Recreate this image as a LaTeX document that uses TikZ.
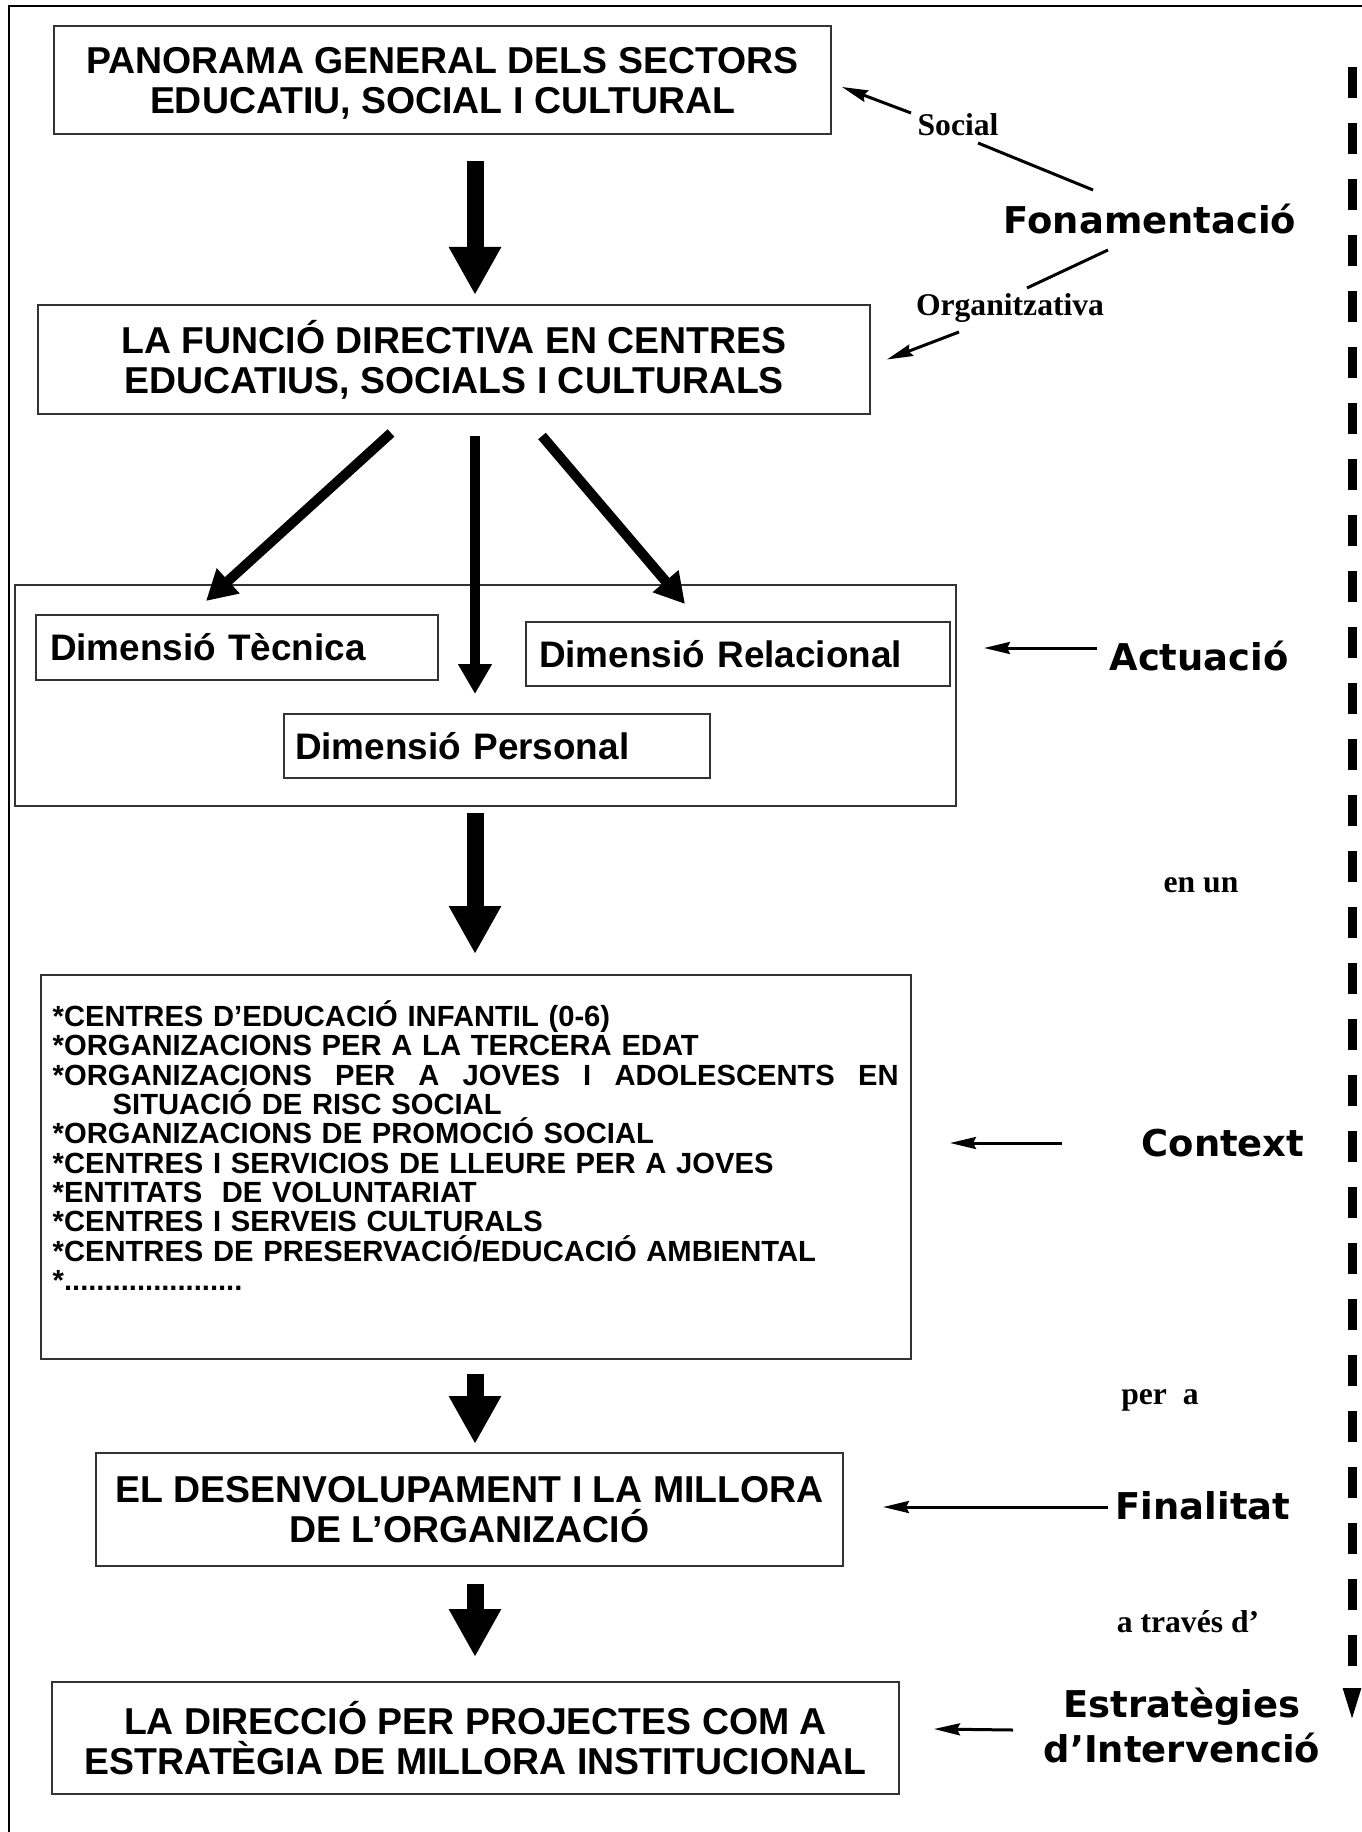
\documentclass[tikz,border=0pt]{standalone}
\usepackage{fontspec}
\setmainfont{Liberation Sans}
\newfontfamily\verdfont{DejaVu Sans}
\newfontfamily\timesfont{Liberation Serif}
\usetikzlibrary{arrows.meta}

\begin{document}
\begin{tikzpicture}[x=0.1mm, y=-0.1mm,
    box/.style={draw=black!80, line width=0.2mm, inner sep=0pt, align=center,
        font=\bfseries\fontsize{10.65}{11.4}\selectfont},
    dimbox/.style={box, align=left, minimum height=6.4mm,
        font=\bfseries\fontsize{10.5}{11.4}\selectfont},
    list/.style={inner sep=0pt, align=left, text width=84.6mm,
        font=\bfseries\fontsize{8.3}{8.35}\selectfont},
    big arrow/.style={line width=1.7mm, -{Triangle[length=4.8mm,width=4.9mm]}},
    mid arrow/.style={line width=1mm, -{Triangle[length=3mm,width=3.2mm]}},
    small arrow/.style={line width=0.3mm, -{Stealth[length=2.6mm,width=1.2mm,inset=0.3mm]}},
    key/.style={font=\verdfont\bfseries\fontsize{10.5}{12.8}\selectfont, align=center},
    link/.style={font=\timesfont\bfseries\fontsize{9}{10}\selectfont}]
    \useasboundingbox (0,0) rectangle (1362,1832);
    % frame of the page
    \draw[line width=0.25mm] (9,1900) |- (1400,6);
    \coordinate (axis) at (475,0);

    % main column
    \node[box, minimum width=77.7mm, minimum height=10.8mm] (pan) at (442.5,80)
        {\vphantom{Ó}PANORAMA GENERAL DELS SECTORS\\EDUCATIU, SOCIAL I CULTURAL};
    \node[box, minimum width=83.2mm, minimum height=10.9mm] (fun) at (454,359.5)
        {LA FUNCIÓ DIRECTIVA EN CENTRES\\EDUCATIUS, SOCIALS I CULTURALS};
    \node[box, minimum width=94.1mm, minimum height=22.1mm] (dims) at (485.5,695.5) {};
    \node[dimbox, inner xsep=1.4mm, text width=37.4mm, minimum height=6.5mm] (tec) at (237,647.5) {Dimensió Tècnica};
    \node[dimbox, inner xsep=1.3mm, text width=39.8mm] (rel) at (738,654) {Dimensió Relacional};
    \node[dimbox, inner xsep=1.1mm, text width=40.4mm] (per) at (497,746) {Dimensió Personal};
    \node[box, minimum width=87mm, minimum height=38.4mm] (ctx) at (476,1167) {};
    \node[list, anchor=north west] (ctxlist) at ([shift={(12,26)}]ctx.north west)
        {*CENTRES D’EDUCACIÓ INFANTIL (0-6)\\
         {*}ORGANIZACIONS PER A LA TERCERA EDAT\\
         {*}ORGANIZACIONS\hfill PER\hfill A\hfill JOVES\hfill I\hfill ADOLESCENTS\hfill EN\\
         \hspace*{6mm}SITUACIÓ DE RISC SOCIAL\\
         {*}ORGANIZACIONS DE PROMOCIÓ SOCIAL\\
         {*}CENTRES I SERVICIOS DE LLEURE PER A JOVES\\
         {*}ENTITATS\ \ DE VOLUNTARIAT\\
         {*}CENTRES I SERVEIS CULTURALS\\
         {*}CENTRES DE PRESERVACIÓ/EDUCACIÓ AMBIENTAL\\
         {*}......................};
    \node[box, minimum width=74.7mm, minimum height=11.3mm] (des) at (469.5,1509.5)
        {EL DESENVOLUPAMENT I LA MILLORA\\DE L’ORGANIZACIÓ};
    \node[box, minimum width=84.7mm, minimum height=11.2mm] (dir) at (475.5,1738)
        {LA DIRECCIÓ PER PROJECTES COM A\\ESTRATÈGIA DE MILLORA INSTITUCIONAL};

    % right hand labels
    \node[link] (soc) at (958,125) {Social};
    \node[key] (fon) at (1150,219) {Fonamentació};
    \node[link] (org) at (1010,308) {Organitzativa};
    \node[key] (act) at (1199,656) {Actuació};
    \node[link] (enun) at (1201,885) {en un};
    \node[key] (cont) at (1223,1143) {Context};
    \node[link] (pera) at (1160,1400) {per\ \ a};
    \node[key] (fin) at (1203,1506) {Finalitat};
    \node[link] (trav) at (1188,1622) {a través d’};
    \node[key] (est) at (1182,1725) {Estratègies\\d’Intervenció};

    % flow arrows
    \draw[big arrow, shorten <=2.6mm, shorten >=0.9mm] (pan.south -| axis) -- (fun.north -| axis);
    \draw[mid arrow] ([shift={(-63,18)}]fun.south) -- ([shift={(-31,-13)}]tec.north);
    \draw[mid arrow, shorten <=2.1mm, shorten >=1.9mm] (fun.south -| axis) -- (per.north -| axis);
    \draw[mid arrow] ([shift={(88,21)}]fun.south) -- ([shift={(-53,-17)}]rel.north);
    \draw[big arrow, shorten <=0.6mm, shorten >=2mm] (dims.south -| axis) -- (ctx.north -| axis);
    \draw[big arrow, shorten <=1.4mm, shorten >=0.8mm] (ctx.south -| axis) -- (des.north -| axis);
    \draw[big arrow, shorten <=1.7mm, shorten >=2.4mm] (des.south -| axis) -- (dir.north -| axis);

    % label connectors
    \draw[small arrow] ([shift={(-47,-12)}]soc.center) -- ([shift={(10,7)}]pan.east);
    \draw[line width=0.3mm] ([shift={(20,18)}]soc.center) -- ([shift={(-57,-29)}]fon.center);
    \draw[line width=0.3mm] ([shift={(-42,31)}]fon.center) -- ([shift={(17,-20)}]org.center);
    \draw[small arrow] ([shift={(-51,24)}]org.center) -- ([xshift=1.6mm]fun.east);
    \draw[small arrow] ([shift={(-102,-8)}]act.center) -- ([shift={(33,-6)}]rel.east);
    \draw[small arrow] ([shift={(-161,0)}]cont.center) -- ([shift={(38,-24)}]ctx.east);
    \draw[small arrow] ([shift={(-95,1)}]fin.center) -- ([shift={(39,-2.5)}]des.east);
    \draw[small arrow] ([shift={(-169,5)}]est.center) -- ([shift={(34,-9)}]dir.east);

    % dashed time line
    \coordinate (dtop) at (1352,67);
    \coordinate (dbot) at (1352,1727);
    \draw[line width=0.9mm, dash pattern=on 3.1mm off 2.5mm,
        -{Triangle[length=3.9mm,width=1.5mm]}] (dtop) -- (dbot);
\end{tikzpicture}
\end{document}
